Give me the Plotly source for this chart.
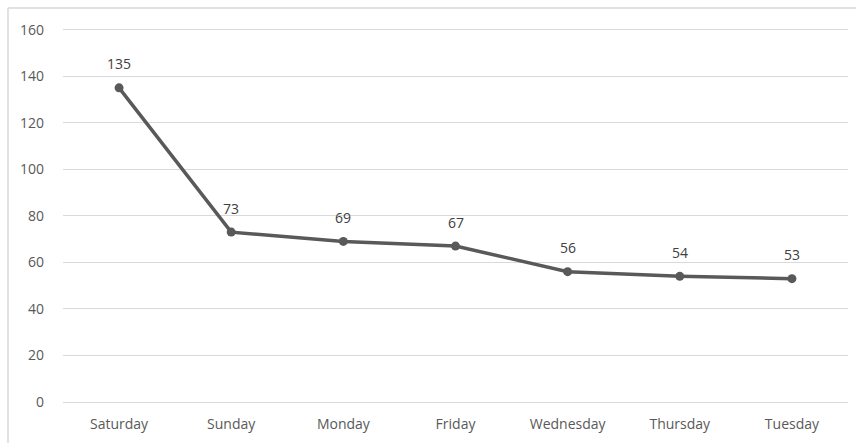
import plotly.graph_objects as go

days = ["Saturday", "Sunday", "Monday", "Friday", "Wednesday", "Thursday", "Tuesday"]
counts = [135, 73, 69, 67, 56, 54, 53]
y_ticks = [0, 20, 40, 60, 80, 100, 120, 140, 160]

LABEL_FONT = dict(family="Open Sans", size=14, color="#595959")

fig = go.Figure()
fig.add_trace(go.Scatter(
    x=days,
    y=counts,
    mode="lines+markers",
    line=dict(color="#595959", width=3.5),
    marker=dict(color="#595959", size=9),
    cliponaxis=False,
    hoverinfo="x+y",
))

# value labels above each point
for d, v in zip(days, counts):
    fig.add_annotation(
        x=d, y=v, text=str(v), showarrow=False, yshift=24,
        font=dict(family="Open Sans", size=14, color="#404040"),
    )

PLOT_H = 377
TOP = 25
BORDER_Y = 1 + (TOP - 8) / PLOT_H
BORDER_X = -55 / 785

fig.update_layout(
    width=856,
    height=443,
    margin=dict(l=63, r=8, t=TOP, b=41),
    paper_bgcolor="white",
    plot_bgcolor="white",
    showlegend=False,
    font=LABEL_FONT,
    xaxis=dict(
        type="category",
        range=[-0.5, 6.5],
        showgrid=False,
        showline=False,
        zeroline=False,
        ticks="",
        ticklabelstandoff=12,
        tickfont=LABEL_FONT,
    ),
    yaxis=dict(
        range=[0, 162],
        tickvals=y_ticks,
        showgrid=True,
        gridcolor="#D9D9D9",
        gridwidth=1,
        zeroline=True,
        zerolinecolor="#D9D9D9",
        zerolinewidth=1,
        showline=False,
        ticks="",
        ticklabelstandoff=18,
        tickfont=LABEL_FONT,
    ),
    shapes=[
        dict(type="line", xref="paper", yref="paper", x0=BORDER_X, x1=1.02, y0=BORDER_Y, y1=BORDER_Y,
             line=dict(color="#D9D9D9", width=1.5)),
        dict(type="line", xref="paper", yref="paper", x0=BORDER_X, x1=BORDER_X, y0=-0.12, y1=BORDER_Y,
             line=dict(color="#D9D9D9", width=1.5)),
    ],
)

fig.write_html("out.html")
